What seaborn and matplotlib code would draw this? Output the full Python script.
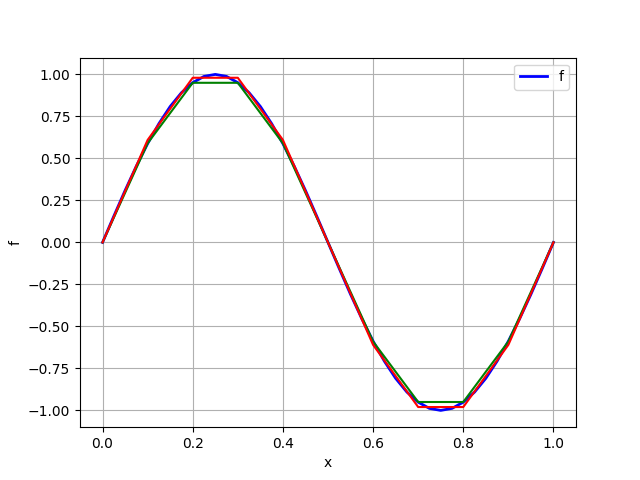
import numpy as np
import pandas as pd
import matplotlib
matplotlib.use("Agg")
import matplotlib.pyplot as plt
import seaborn as sns

# smooth curve
x_f = [0.0, 0.025, 0.05, 0.075, 0.1, 0.125, 0.15, 0.175, 0.2, 0.225, 0.25,
       0.275, 0.3, 0.325, 0.35, 0.375, 0.4, 0.425, 0.45, 0.475, 0.5,
       0.525, 0.55, 0.575, 0.6, 0.625, 0.65, 0.675, 0.7, 0.725, 0.75,
       0.775, 0.8, 0.825, 0.85, 0.875, 0.9, 0.925, 0.95, 0.975, 1.0]
f_vals = [0.0, 0.156, 0.309, 0.454, 0.588, 0.707, 0.809, 0.891, 0.951, 0.988, 1.0,
          0.988, 0.951, 0.891, 0.809, 0.707, 0.588, 0.454, 0.309, 0.156, 0.0,
          -0.156, -0.309, -0.454, -0.588, -0.707, -0.809, -0.891, -0.951, -0.988, -1.0,
          -0.988, -0.951, -0.891, -0.809, -0.707, -0.588, -0.454, -0.309, -0.156, 0.0]

# coarse approximations on 11 nodes
x_nodes = [0.0, 0.1, 0.2, 0.3, 0.4, 0.5, 0.6, 0.7, 0.8, 0.9, 1.0]
green_vals = [0.0, 0.59, 0.95, 0.95, 0.59, 0.0, -0.59, -0.95, -0.95, -0.59, 0.0]
red_vals = [0.0, 0.61, 0.98, 0.98, 0.61, 0.0, -0.61, -0.98, -0.98, -0.61, 0.0]

df_f = pd.DataFrame({"x": x_f, "f": f_vals})
df_n = pd.DataFrame({"x": x_nodes, "green": green_vals, "red": red_vals})

fig, ax = plt.subplots(figsize=(6.4, 4.8), dpi=100)
sns.lineplot(data=df_f, x="x", y="f", color="blue", linewidth=2, label="f", ax=ax)
sns.lineplot(data=df_n, x="x", y="green", color="green", linewidth=1.5, ax=ax)
sns.lineplot(data=df_n, x="x", y="red", color="red", linewidth=1.5, ax=ax)

ax.set_xlabel("x")
ax.set_ylabel("f")
ax.grid(True)
ax.legend(loc="upper right")

plt.savefig("out.png")
